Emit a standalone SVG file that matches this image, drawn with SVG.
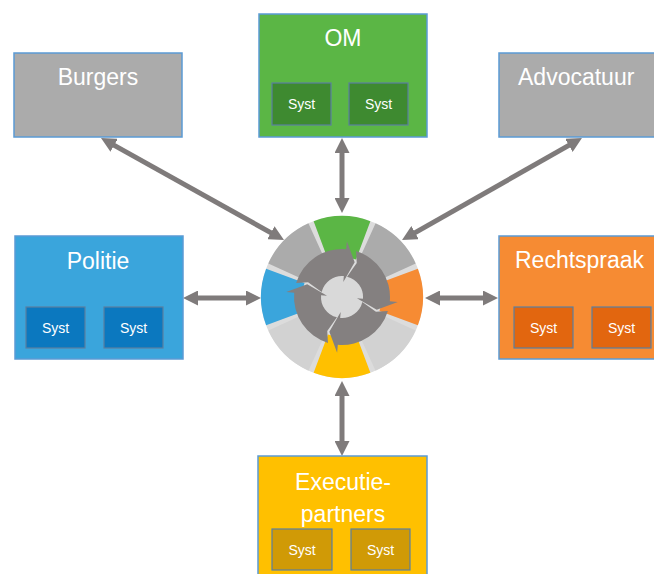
<svg xmlns="http://www.w3.org/2000/svg" width="654" height="574" viewBox="0 0 654 574">
<style>
.box{stroke:#5b9bd5;stroke-width:1.5}
.sys{stroke:#5a7fa0;stroke-width:1.2}
.t{fill:#fff;font-family:"Liberation Sans",Arial,sans-serif;font-size:23px;text-anchor:middle}
.s{fill:#fff;font-family:"Liberation Sans",Arial,sans-serif;font-size:14px;text-anchor:middle}
.con{stroke:#7f7b7b;stroke-width:5;fill:none;marker-start:url(#ah);marker-end:url(#ah)}
</style>
<defs>
<marker id="ah" markerUnits="userSpaceOnUse" markerWidth="16" markerHeight="15" refX="7" refY="7.5" orient="auto-start-reverse">
<path d="M0,0 L15,7.5 L0,15 Z" fill="#7f7b7b"/>
</marker>
<path id="seg" d="M417.87,268.63 A81,81 0 0 1 417.87,325.37 L379.47,311.01 A40,40 0 0 0 379.47,282.99 Z"/>
<path id="arr" d="M46.95,9.98 A48,48 0 0 1 0,48 L0,56 L-9.58,35.74 L0,15 L0,21 A21,21 0 0 0 20.74,3.29 L35.09,11.74 Z"/>
</defs>
<rect width="654" height="574" fill="#fff"/>

<g id="connectors">
<line class="con" x1="108" y1="141.9" x2="277" y2="236.1"/>
<line class="con" x1="342" y1="146" x2="342" y2="205"/>
<line class="con" x1="575" y1="141.9" x2="409" y2="236.1"/>
<line class="con" x1="191" y1="298" x2="253" y2="298"/>
<line class="con" x1="433" y1="298" x2="490" y2="298"/>
<line class="con" x1="342" y1="389" x2="342" y2="448"/>
</g>

<g id="burgers">
<rect class="box" x="14" y="53" width="168" height="84" fill="#ababab"/>
<text class="t" x="98" y="85">Burgers</text>
</g>

<g id="om">
<rect class="box" x="259" y="14" width="168" height="123" fill="#5bb645"/>
<text class="t" x="343" y="46">OM</text>
<rect class="sys" x="272" y="83" width="59" height="42" fill="#3e8a30"/>
<text class="s" x="301.5" y="109">Syst</text>
<rect class="sys" x="349" y="83" width="59" height="42" fill="#3e8a30"/>
<text class="s" x="378.5" y="109">Syst</text>
</g>

<g id="advocatuur">
<rect class="box" x="499" y="53" width="165" height="84" fill="#ababab"/>
<text class="t" x="518" y="85" style="text-anchor:start">Advocatuur</text>
</g>

<g id="politie">
<rect class="box" x="15" y="236" width="168" height="123" fill="#3aa5dc"/>
<text class="t" x="98" y="269">Politie</text>
<rect class="sys" x="26" y="307" width="59" height="41" fill="#0b78bf"/>
<text class="s" x="55.5" y="333">Syst</text>
<rect class="sys" x="104" y="307" width="59" height="41" fill="#0b78bf"/>
<text class="s" x="133.5" y="333">Syst</text>
</g>

<g id="rechtspraak">
<rect class="box" x="499" y="236" width="165" height="123" fill="#f68b33"/>
<text class="t" x="515" y="268" style="text-anchor:start">Rechtspraak</text>
<rect class="sys" x="514" y="307" width="59" height="41" fill="#e2660f"/>
<text class="s" x="543.5" y="333">Syst</text>
<rect class="sys" x="592" y="307" width="59" height="41" fill="#e2660f"/>
<text class="s" x="621.5" y="333">Syst</text>
</g>

<g id="executiepartners">
<rect class="box" x="258" y="456" width="169" height="125" fill="#ffc000"/>
<text class="t" x="343" y="490">Executie-</text>
<text class="t" x="343" y="522">partners</text>
<rect class="sys" x="272" y="529" width="60" height="41" fill="#d09a06"/>
<text class="s" x="302" y="555">Syst</text>
<rect class="sys" x="351" y="529" width="59" height="41" fill="#d09a06"/>
<text class="s" x="380.5" y="555">Syst</text>
</g>

<g id="cycle">
<circle cx="342" cy="297" r="81" fill="#dcdcdc"/>
<use href="#seg" fill="#f68b33"/>
<use href="#seg" fill="#d2d2d2" transform="rotate(45 342 297)"/>
<use href="#seg" fill="#ffc000" transform="rotate(90 342 297)"/>
<use href="#seg" fill="#d2d2d2" transform="rotate(135 342 297)"/>
<use href="#seg" fill="#3aa5dc" transform="rotate(180 342 297)"/>
<use href="#seg" fill="#ababab" transform="rotate(-135 342 297)"/>
<use href="#seg" fill="#5bb645" transform="rotate(-90 342 297)"/>
<use href="#seg" fill="#ababab" transform="rotate(-45 342 297)"/>
<circle cx="342" cy="297" r="21" fill="#d9d9d9"/>
<use href="#arr" fill="#848080" transform="translate(342 297) rotate(-85)"/>
<use href="#arr" fill="#848080" transform="translate(342 297) rotate(5)"/>
<use href="#arr" fill="#848080" transform="translate(342 297) rotate(95)"/>
<use href="#arr" fill="#848080" transform="translate(342 297) rotate(185)"/>
</g>
</svg>
